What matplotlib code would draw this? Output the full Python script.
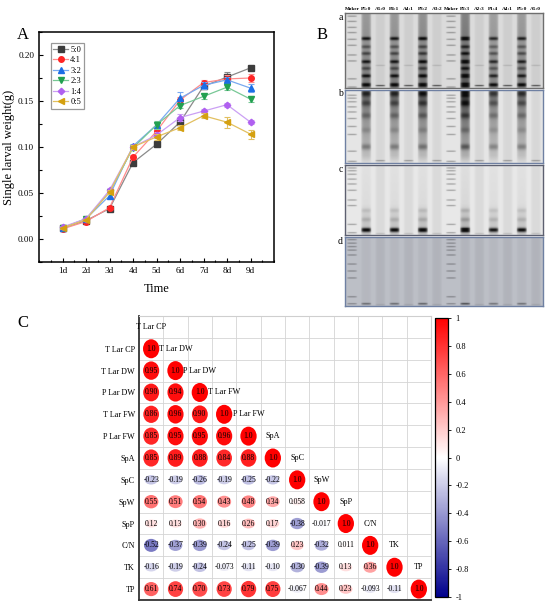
import numpy as np
import matplotlib
matplotlib.use("Agg")
import matplotlib.pyplot as plt
from matplotlib.patches import Ellipse
from matplotlib.colors import LinearSegmentedColormap, Normalize
from matplotlib.colorbar import ColorbarBase
from matplotlib.ticker import MultipleLocator

plt.rcParams['font.family'] = ['Liberation Serif', 'DejaVu Serif']

# ---- panel A data ----
days = ['1d', '2d', '3d', '4d', '5d', '6d', '7d', '8d', '9d']
ratios = ['5:0', '4:1', '3:2', '2:3', '1:4', '0:5']
w_5_0 = [0.0116, 0.020, 0.033, 0.083, 0.103, 0.127, 0.166, 0.176, 0.186]
w_4_1 = [0.011, 0.019, 0.034, 0.089, 0.117, 0.151, 0.170, 0.174, 0.175]
w_3_2 = [0.012, 0.022, 0.047, 0.101, 0.124, 0.153, 0.167, 0.173, 0.164]
w_2_3 = [0.012, 0.022, 0.051, 0.099, 0.124, 0.145, 0.155, 0.165, 0.152]
w_1_4 = [0.013, 0.022, 0.053, 0.100, 0.113, 0.132, 0.139, 0.146, 0.127]
w_0_5 = [0.012, 0.021, 0.051, 0.100, 0.111, 0.121, 0.134, 0.127, 0.114]
e_5_0 = [0.001, 0.001, 0.001, 0.002, 0.002, 0.003, 0.003, 0.005, 0.002]
e_4_1 = [0.001, 0.001, 0.001, 0.002, 0.003, 0.003, 0.003, 0.004, 0.004]
e_3_2 = [0.001, 0.001, 0.002, 0.002, 0.003, 0.007, 0.004, 0.003, 0.004]
e_2_3 = [0.001, 0.001, 0.002, 0.002, 0.004, 0.003, 0.003, 0.003, 0.003]
e_1_4 = [0.001, 0.001, 0.002, 0.002, 0.003, 0.004, 0.002, 0.002, 0.002]
e_0_5 = [0.001, 0.001, 0.002, 0.002, 0.003, 0.003, 0.003, 0.006, 0.005]
a_series = [w_5_0, w_4_1, w_3_2, w_2_3, w_1_4, w_0_5]
a_errors = [e_5_0, e_4_1, e_3_2, e_2_3, e_1_4, e_0_5]
a_markers = ['s', 'o', '^', 'v', 'D', '<']
a_mcolors = ['#3c3c3c', '#ff2424', '#1c6ee6', '#22a050', '#b060f0', '#d4a010']
a_lcolors = ['#8a8a8a', '#ff8c8c', '#78aaf0', '#78c896', '#cba0f4', '#e2c060']

# ---- panel B (gel) data ----
lane_names = ['Maker', 'P5:0', 'A5:0', 'P4:1', 'A4:1', 'P3:2', 'A3:2',
              'Maker', 'P2:3', 'A2:3', 'P1:4', 'A4:1', 'P5:0', 'A5:0']
lane_kinds = ['M', 'P', 'A', 'P', 'A', 'P', 'A', 'M', 'P', 'A', 'P', 'A', 'P', 'A']
lane_strength = [1.0, 1.0, 1.0, 1.0, 1.0, 1.1, 1.0, 1.0, 1.35, 1.0, 0.9, 1.0, 0.95, 1.0]
marker_a = [0.04, 0.11, 0.19, 0.26, 0.35, 0.43, 0.56, 0.64, 0.88, 0.99]
marker_b = [0.07, 0.11, 0.16, 0.23, 0.30, 0.39, 0.50, 0.61, 0.84, 0.98]
marker_c = [0.04, 0.08, 0.13, 0.20, 0.27, 0.36, 0.50, 0.58, 0.85, 0.97]
marker_d = [0.05, 0.10, 0.15, 0.20, 0.27, 0.40, 0.50, 0.60, 0.87, 0.97]
p_bands_a = [(0.34, 0.6), (0.45, 0.3), (0.54, 0.35), (0.65, 0.55), (0.74, 0.3), (0.84, 0.55), (0.96, 0.7)]
p_bands_b = [(0.05, 0.3), (0.18, 0.25), (0.35, 0.2), (0.55, 0.12), (0.78, 0.25)]
p_bands_c = [(0.65, 0.1), (0.78, 0.12), (0.93, 0.9)]
p_bands_d = [(0.97, 0.45)]
a_bands_a = [(0.97, 0.7), (0.70, 0.15)]
a_bands_b = [(0.97, 0.35)]
a_bands_c = [(0.98, 0.15)]
a_bands_d = [(0.98, 0.1)]
p_smear_a = [(0.0, 0.3), (0.5, 0.35), (1.0, 0.45)]
p_smear_b = [(0.0, 0.6), (0.3, 0.4), (0.6, 0.28), (0.9, 0.18), (1.0, 0.05)]
p_smear_c = [(0.0, 0.03), (0.55, 0.05), (0.8, 0.15), (1.0, 0.15)]
p_smear_d = [(0.0, 0.04), (1.0, 0.04)]
p_band_width = [0.022, 0.04, 0.03, 0.012]
gel_bg = [(0.86, 0.86, 0.86), (0.90, 0.90, 0.90), (0.91, 0.91, 0.91), (0.74, 0.75, 0.78)]
gel_edge = ['#6e6e6e', '#6f80a2', '#5d6070', '#6f80a2']
gel_tags = ['a', 'b', 'c', 'd']

# ---- panel C data ----
vars_c = ['T Lar CP', 'T Lar DW', 'P Lar DW', 'T Lar FW', 'P Lar FW', 'SpA',
          'SpC', 'SpW', 'SpP', 'C/N', 'TK', 'TP']
r_lower = [
    [],
    [0.95],
    [0.90, 0.94],
    [0.86, 0.96, 0.90],
    [0.85, 0.95, 0.95, 0.96],
    [0.85, 0.89, 0.88, 0.84, 0.88],
    [-0.23, -0.19, -0.26, -0.19, -0.25, -0.22],
    [0.55, 0.51, 0.54, 0.43, 0.48, 0.34, 0.058],
    [0.12, 0.13, 0.30, 0.16, 0.26, 0.17, -0.38, -0.017],
    [-0.52, -0.37, -0.39, -0.24, -0.25, -0.39, 0.23, -0.32, 0.011],
    [-0.16, -0.19, -0.24, -0.073, -0.11, -0.10, -0.30, -0.39, 0.13, 0.36],
    [0.61, 0.74, 0.70, 0.73, 0.79, 0.75, -0.067, 0.44, 0.23, -0.093, -0.11],
]

W, H = 550, 610
fig = plt.figure(figsize=(W / 100, H / 100), dpi=100)


def box(l, t, r, b):
    return [l / W, 1 - b / H, (r - l) / W, (b - t) / H]


# ================= panel A =================
ax = fig.add_axes(box(39, 32, 274, 262))
x = np.arange(1, 10)
for ys, es, lab, m, mc, lc in zip(a_series, a_errors, ratios, a_markers, a_mcolors, a_lcolors):
    ax.errorbar(x, ys, yerr=es, fmt='none', ecolor=lc, elinewidth=0.8,
                capsize=2, capthick=0.8)
    ms = 3.3 if m == 'D' else 4
    ax.plot(x, ys, color=lc, lw=0.9, marker=m, ms=ms, mfc=mc, mec=mc, label=lab)
ax.set_xlim(0, 10)
ax.set_ylim(-0.025, 0.225)
ax.set_xticks(x)
ax.set_xticklabels(days)
ax.xaxis.set_minor_locator(MultipleLocator(0.5))
ax.set_yticks([0.0, 0.05, 0.10, 0.15, 0.20])
ax.set_yticklabels(['0.00', '0.05', '0.10', '0.15', '0.20'])
ax.yaxis.set_minor_locator(MultipleLocator(0.025))
ax.tick_params(which='both', direction='in', labelsize=6.6, width=0.8)
ax.tick_params(which='major', length=3)
ax.tick_params(which='minor', length=1.8)
for s in ax.spines.values():
    s.set_linewidth(1.1)
ax.set_xlabel('Time', fontsize=9, labelpad=6)
ax.set_ylabel('Single larval weight(g)', fontsize=9, labelpad=2)
leg = ax.legend(loc='upper left', bbox_to_anchor=(0.051, 0.952), borderaxespad=0,
                fontsize=6, frameon=True, fancybox=False, edgecolor='#808080',
                handlelength=1.7, labelspacing=0.3, borderpad=0.3, handletextpad=0.3)
leg.get_frame().set_linewidth(0.9)
fig.text(17 / W, 1 - 35 / H, 'A', fontsize=12, va='center')
fig.text(317 / W, 1 - 35 / H, 'B', fontsize=12, va='center')
fig.text(17 / W, 1 - 323 / H, 'C', fontsize=12, va='center')


# ================= panel B =================
def lane_dark(kind, strength, markers, pb, ab, smear, bw, yy):
    d = np.zeros_like(yy)
    if kind == 'M':
        for p in markers:
            d += 0.7 * np.exp(-((yy - p) / 0.008) ** 2)
    elif kind == 'P':
        sp = np.array(smear)
        d += np.interp(yy, sp[:, 0], sp[:, 1])
        for p, s in pb:
            d += s * np.exp(-((yy - p) / bw) ** 2)
        d *= strength
    else:
        d += 0.06
        for p, s in ab:
            d += s * np.exp(-((yy - p) / 0.008) ** 2)
    return np.clip(d, 0, 0.95)


strips = [box(345, 13, 543, 88), box(345, 90, 543, 163),
          box(345, 165, 543, 235), box(345, 237, 543, 306)]
markers_all = [marker_a, marker_b, marker_c, marker_d]
pb_all = [p_bands_a, p_bands_b, p_bands_c, p_bands_d]
ab_all = [a_bands_a, a_bands_b, a_bands_c, a_bands_d]
sm_all = [p_smear_a, p_smear_b, p_smear_c, p_smear_d]
hpix, lw_pix = 200, 20
yy = np.linspace(0, 1, hpix)
xx = np.linspace(-1, 1, lw_pix)
lane_win = np.clip(1 - np.abs(xx / 0.8) ** 4, 0, 1)
for k, pos in enumerate(strips):
    gax = fig.add_axes(pos)
    cols = []
    for kind, st in zip(lane_kinds, lane_strength):
        d = lane_dark(kind, st, markers_all[k], pb_all[k], ab_all[k], sm_all[k],
                      p_band_width[k], yy)
        win = lane_win * (0.55 if kind == 'M' else 1.0)
        cols.append(d[:, None] * win[None, :])
    dark = np.hstack(cols)
    img = np.array(gel_bg[k])[None, None, :] * (1 - dark[..., None])
    gax.imshow(img, aspect='auto', interpolation='bilinear')
    gax.set_xticks([])
    gax.set_yticks([])
    for s in gax.spines.values():
        s.set_color(gel_edge[k])
        s.set_linewidth(1.0)
    fig.text(343 / W, pos[1] + pos[3] - 4 / H, gel_tags[k], fontsize=7,
             ha='right', va='center')
    if k == 0:
        for i, nm in enumerate(lane_names):
            gax.text((i + 0.5) / len(lane_names), 1.02, nm, transform=gax.transAxes,
                     fontsize=3.8, ha='center', va='bottom', fontweight='bold')

# ================= panel C =================
cmap = LinearSegmentedColormap.from_list('nwr', [(0, 0, 0.55), (1, 1, 1), (1, 0, 0)])
norm = Normalize(-1, 1)
n = len(vars_c)
cax_m = fig.add_axes(box(139, 316, 431, 600))
cax_m.set_xlim(0, n)
cax_m.set_ylim(n + 1, 0)
for kk in range(1, n):
    cax_m.axvline(kk, color='#d4d4d4', lw=0.6, zorder=0)
for kk in range(1, n + 1):
    cax_m.axhline(kk, color='#d4d4d4', lw=0.6, zorder=0)


def fmt(r):
    return f'{r:.2g}' if abs(r) < 0.1 else f'{r:.2f}'


for i in range(n):
    row = i + 1
    vals = list(r_lower[i]) + [1.0]
    for j, r in enumerate(vals):
        a = abs(r)
        w = 0.5 + 0.17 * a
        h = 0.3 + 0.57 * a
        cax_m.add_patch(Ellipse((j + 0.5, row + 0.5), w, h, facecolor=cmap(norm(r)),
                                edgecolor='none', zorder=2))
        cax_m.text(j + 0.5, row + 0.5, '1.0' if j == i else fmt(r), fontsize=5.5,
                   ha='center', va='center', zorder=3)
    cax_m.text(i + 0.5, i + 0.5, vars_c[i], fontsize=5.9, ha='center', va='center')
cax_m.set_xticks([])
cax_m.set_yticks(np.arange(1, n + 1) + 0.5)
cax_m.set_yticklabels(vars_c, fontsize=5.9)
cax_m.tick_params(axis='y', length=0, pad=3)
cax_m.spines['left'].set_linewidth(1.3)
cax_m.spines['bottom'].set_linewidth(1.3)
cax_m.spines['left'].set_color('#333333')
cax_m.spines['bottom'].set_color('#333333')
cax_m.spines['top'].set_color('#cfcfcf')
cax_m.spines['right'].set_color('#cfcfcf')
cax_m.spines['top'].set_linewidth(0.8)
cax_m.spines['right'].set_linewidth(0.8)

cb_ax = fig.add_axes(box(435, 318, 448, 597))
cb = ColorbarBase(cb_ax, cmap=cmap, norm=norm, orientation='vertical')
cb_ticks = np.round(np.linspace(-1, 1, 11), 1)
cb.set_ticks(cb_ticks)
cb.set_ticklabels(['-1' if t == -1 else '1' if t == 1 else '0' if t == 0 else f'{t:.1f}'
                   for t in cb_ticks])
cb.ax.tick_params(labelsize=6, length=2, width=0.6)
cb.outline.set_linewidth(0.9)

fig.savefig('out.png', dpi=100)
